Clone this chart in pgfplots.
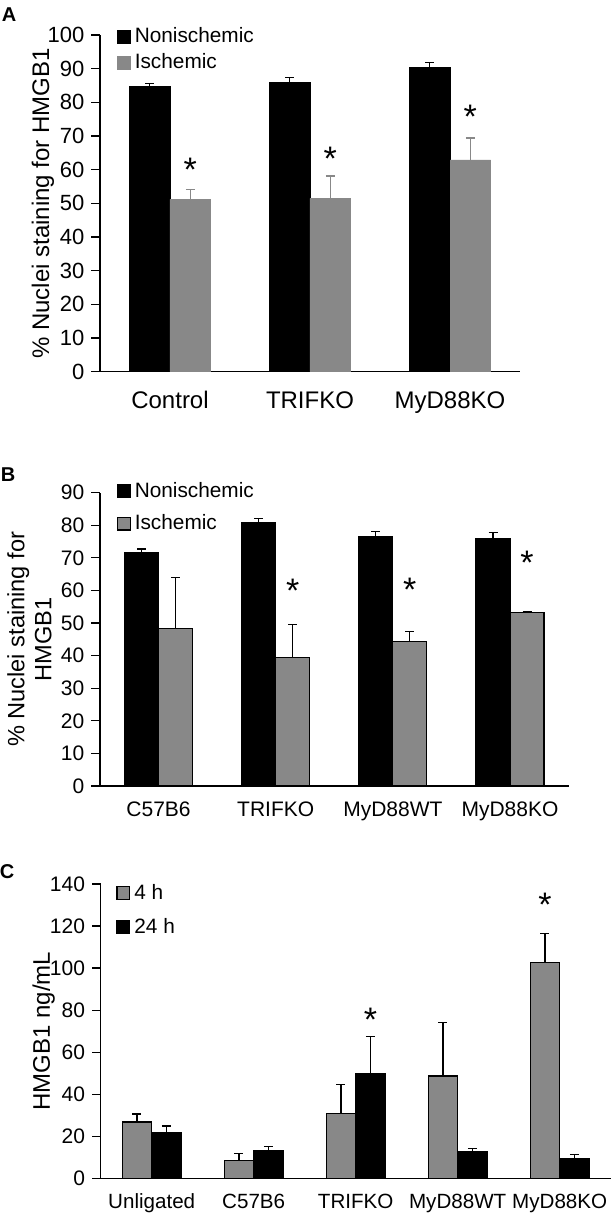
\documentclass[border=0pt]{standalone}
\usepackage{fontspec}
\setmainfont{Liberation Sans}
\usepackage{pgfplots}
\pgfplotsset{compat=1.18}
\definecolor{barg}{RGB}{136,136,136}

\pgfplotstableread{
x y e
-0.145 84.7 0.8
0.855 86.0 1.4
1.855 90.3 1.5
}\Anon
\pgfplotstableread{
x y e
0.145 51.2 3.0
1.145 51.5 6.6
2.145 62.9 6.5
}\Aisc
\pgfplotstableread{
x y e
-0.145 71.7 1.0
0.855 80.7 1.4
1.855 76.6 1.6
2.855 75.9 1.9
}\Bnon
\pgfplotstableread{
x y e
0.145 48.4 15.5
1.145 39.5 10.1
2.145 44.3 3.0
3.145 53.2 0.4
}\Bisc
\pgfplotstableread{
x y e
-0.145 26.8 3.8
0.855 8.6 3.3
1.855 30.9 13.8
2.855 48.7 25.6
3.855 102.5 13.8
}\Cfour
\pgfplotstableread{
x y e
0.145 21.7 3.2
1.145 13.2 1.9
2.145 49.9 17.5
3.145 12.5 1.8
4.145 9.4 2.0
}\Ctwentyfour

\pgfplotsset{
  panel/.style={
    scale only axis,
    axis x line*=bottom, axis y line*=left,
    axis line style={line width=0.7pt},
    tick align=outside,
    major tick length=4.3pt, minor tick length=4.3pt,
    xtick style={draw=none},
    ytick style={line width=0.6pt, black},
    minor x tick style={line width=0.6pt, black},
    enlargelimits=false,
    /pgf/number format/assume math mode=true,
    ymin=0,
    clip=false,
    legend style={draw=none, fill=none, inner sep=0pt, legend cell align=left,
      /tikz/every even column/.append style={column sep=1pt}},
    legend image code/.code={\filldraw[##1] (0pt,-3.2pt) rectangle (6.4pt,3.2pt);},
  },
  errb/.style={error bars/.cd, y dir=plus, y explicit,
    error bar style={line width=0.6pt, draw=#1, solid},
    error mark options={rotate=90, mark size=2.25pt, line width=0.6pt, draw=#1}},
  stars/.style={only marks, mark=none, point meta=explicit symbolic,
    nodes near coords, nodes near coords style={anchor=center, yshift=-3.5pt,
    font=\fontsize{17}{17}\selectfont}},
}

\begin{document}
\begin{tikzpicture}
\useasboundingbox (0,0) rectangle (307pt,608.5pt);
\node[font=\bfseries\fontsize{10}{11}\selectfont] at (4.5pt,601pt) {A};
\node[font=\bfseries\fontsize{10}{11}\selectfont] at (4pt,371pt) {B};
\node[font=\bfseries\fontsize{10}{11}\selectfont] at (3.5pt,172.5pt) {C};

% Panel A
\begin{axis}[panel, at={(50pt,422.65pt)}, anchor=south west,
  width=210pt, height=168.35pt,
  xmin=-0.5, xmax=2.5, ymax=100,
  xtick={0,1,2}, xticklabels={Control,TRIFKO,MyD88KO},
  minor xtick={-0.5,0.5,1.5,2.5},
  ytick={0,10,...,100},
  yticklabel style={font=\fontsize{11}{12}\selectfont},
  xticklabel style={font=\fontsize{12}{14}\selectfont, yshift=-2pt},
  every axis y label/.style={at={(rel axis cs:0,0.5)}, xshift=-28.5pt, rotate=90, anchor=center,
    font=\fontsize{12}{14}\selectfont},
  ylabel={\% Nuclei staining for HMGB1},
  legend style={at={(axis description cs:0.04,1.035)}, anchor=north west,
    font=\fontsize{10.4}{12}\selectfont, row sep=0pt},
]
\addplot[ybar, bar width=0.29, bar shift=0pt, fill=black, draw=black, errb=black]
  table[x=x, y=y, y error=e] {\Anon};
\addlegendentry{Nonischemic}
\addplot[ybar, bar width=0.29, bar shift=0pt, fill=barg, draw=barg, errb=barg]
  table[x=x, y=y, y error=e] {\Aisc};
\addlegendentry{Ischemic}
\addplot[stars, forget plot] coordinates {(0.145,62.0)[*] (1.145,65.3)[*] (2.145,77.7)[*]};
\end{axis}

% Panel B
\begin{axis}[panel, at={(50pt,215.5pt)}, anchor=south west,
  width=234.3pt, height=146.65pt,
  xmin=-0.5, xmax=3.5, ymax=90,
  xtick={0,1,2,3}, xticklabels={C57B6,TRIFKO,MyD88WT,MyD88KO},
  minor xtick={-0.5,0.5,1.5,2.5,3.5},
  ytick={0,10,...,90},
  ticklabel style={font=\fontsize{10.5}{12}\selectfont},
  xticklabel style={font=\fontsize{10.5}{12}\selectfont},
  every axis y label/.style={at={(rel axis cs:0,0.5)}, xshift=-35.25pt, rotate=90, anchor=center,
    font=\fontsize{11.8}{13.5}\selectfont, align=center},
  ylabel={\% Nuclei staining for\\HMGB1},
  legend style={at={(axis description cs:0.035,1.05)}, anchor=north west,
    font=\fontsize{10.4}{12}\selectfont, row sep=3pt},
]
\addplot[ybar, bar width=0.29, bar shift=0pt, fill=black, draw=black, line width=0.6pt, errb=black]
  table[x=x, y=y, y error=e] {\Bnon};
\addlegendentry{Nonischemic}
\addplot[ybar, bar width=0.29, bar shift=0pt, fill=barg, draw=black, line width=0.6pt, errb=black]
  table[x=x, y=y, y error=e] {\Bisc};
\addlegendentry{Ischemic}
\addplot[stars, forget plot] coordinates {(1.145,62.2)[*] (2.145,62.4)[*] (3.145,70.7)[*]};
\end{axis}

% Panel C
\begin{axis}[panel, at={(50.35pt,19.35pt)}, anchor=south west,
  width=255pt, height=147.15pt,
  xmin=-0.5, xmax=4.5, ymax=140,
  xtick={0,1,2,3,4}, xticklabels={Unligated,C57B6,TRIFKO,MyD88WT,MyD88KO},
  minor xtick={-0.5,0.5,1.5,2.5,3.5,4.5},
  ytick={0,20,...,140},
  ticklabel style={font=\fontsize{10.5}{12}\selectfont},
  xticklabel style={font=\fontsize{10.3}{12}\selectfont},
  every axis y label/.style={at={(rel axis cs:0,0.5)}, xshift=-28.5pt, rotate=90, anchor=center,
    font=\fontsize{12}{14}\selectfont},
  ylabel={HMGB1 ng/mL},
  legend style={at={(axis description cs:0.03,1.015)}, anchor=north west,
    font=\fontsize{10.4}{12}\selectfont, row sep=4pt},
]
\addplot[ybar, bar width=0.29, bar shift=0pt, fill=barg, draw=black, line width=0.6pt, errb=black]
  table[x=x, y=y, y error=e] {\Cfour};
\addlegendentry{4 h}
\addplot[ybar, bar width=0.29, bar shift=0pt, fill=black, draw=black, line width=0.6pt, errb=black]
  table[x=x, y=y, y error=e] {\Ctwentyfour};
\addlegendentry{24 h}
\addplot[stars, forget plot] coordinates {(2.145,78.5)[*] (3.855,133.2)[*]};
\end{axis}
\end{tikzpicture}
\end{document}
